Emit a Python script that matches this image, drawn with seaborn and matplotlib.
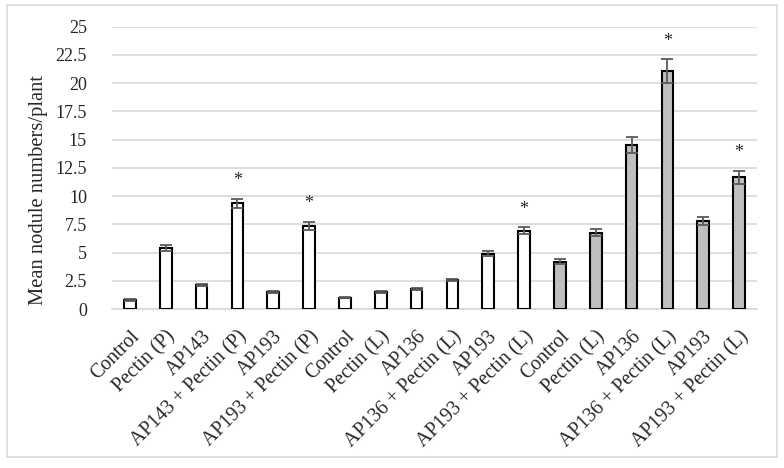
import matplotlib
matplotlib.use("Agg")
import matplotlib.pyplot as plt
import seaborn as sns
import pandas as pd
from matplotlib.patches import Rectangle

# treatments, har group ke 6 bars
labels = ["Control", "Pectin (P)", "AP143", "AP143 + Pectin (P)", "AP193", "AP193 + Pectin (P)",
          "Control", "Pectin (L)", "AP136", "AP136 + Pectin (L)", "AP193", "AP193 + Pectin (L)",
          "Control", "Pectin (L)", "AP136", "AP136 + Pectin (L)", "AP193", "AP193 + Pectin (L)"]
groups = ["white"] * 12 + ["grey"] * 6
means = [0.8, 5.4, 2.15, 9.35, 1.5, 7.35,
         1.0, 1.5, 1.75, 2.55, 4.9, 6.95,
         4.2, 6.75, 14.5, 21.05, 7.8, 11.65]
errors = [0.05, 0.25, 0.1, 0.4, 0.05, 0.35,
          0.05, 0.05, 0.08, 0.1, 0.23, 0.3,
          0.22, 0.32, 0.72, 1.05, 0.38, 0.58]
significant = [False, False, False, True, False, True,
               False, False, False, False, False, True,
               False, False, False, True, False, True]

df = pd.DataFrame({"idx": range(len(labels)), "mean": means, "group": groups})

sns.set_style("white")
plt.rcParams["font.family"] = ["Liberation Serif", "DejaVu Serif"]

fig = plt.figure(figsize=(7.84, 4.68), dpi=100)
ax = fig.add_axes([112 / 784, 1 - 309 / 468, 645 / 784, (309 - 26.7) / 468])

sns.barplot(data=df, x="idx", y="mean", hue="group", dodge=False, legend=False,
            palette={"white": "white", "grey": "#BFBFBF"}, width=0.33,
            edgecolor="black", linewidth=1.5, ax=ax, zorder=3)

ax.errorbar(df["idx"], means, yerr=errors, fmt="none", ecolor="#595959",
            elinewidth=1.3, capsize=4, capthick=1.3, zorder=4)

# significance stars
for i, flag in enumerate(significant):
    if flag:
        ax.text(i, means[i] + errors[i] + 1.6, "*", ha="center", va="center", fontsize=13)

ax.set_ylim(0, 25)
ax.set_xlim(-0.5, len(labels) - 0.5)
ax.set_yticks([i * 2.5 for i in range(11)])
ax.set_yticklabels(["0", "2.5", "5", "7.5", "10", "12.5", "15", "17.5", "20", "22.5", "25"])
ax.yaxis.grid(True, color="#D9D9D9", linewidth=1.2, zorder=0)
ax.set_axisbelow(True)
for s in ["top", "right", "left"]:
    ax.spines[s].set_visible(False)
ax.spines["bottom"].set_color("#D9D9D9")
ax.spines["bottom"].set_linewidth(1.2)

ax.set_xticks(range(len(labels)))
ax.set_xticklabels(labels, rotation=45, ha="right", rotation_mode="anchor", fontsize=14.3)
ax.tick_params(axis="both", length=0)
ax.tick_params(axis="y", labelsize=13, pad=18)
ax.tick_params(axis="x", pad=13)
ax.set_xlabel("")
ax.set_ylabel("Mean nodule numbers/plant", fontsize=14.8)
ax.yaxis.set_label_coords(-0.099, 0.42)

# chart ka bahri border
fig.patches.append(Rectangle((7 / 784, 1 - 457 / 468), 770 / 784, 452 / 468,
                             transform=fig.transFigure, fill=False,
                             edgecolor="#D9D9D9", linewidth=1.2))

fig.savefig("out.png", dpi=100)
